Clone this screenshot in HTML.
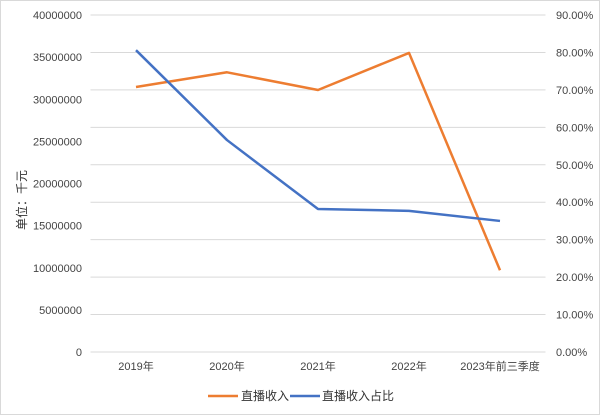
<!DOCTYPE html>
<html><head><meta charset="utf-8"><style>
body{margin:0;background:#fff}
svg{display:block;font-family:"Liberation Sans","Noto Sans CJK SC",sans-serif}
</style></head><body>
<svg id="chart" width="600" height="415" viewBox="0 0 600 415">
<rect x="0.5" y="0.5" width="599" height="414" fill="#fff" stroke="#d9d9d9"/>
<g id="grid"></g><g id="lines"></g><g id="labels"></g>
<text transform="translate(26,200) rotate(-90)" text-anchor="middle" font-size="12" fill="#333">单位：千元</text>
<g>
<line x1="208" y1="396" x2="238" y2="396" stroke="#ED7D31" stroke-width="2.5"/>
<text x="241" y="400" font-size="12" fill="#333">直播收入</text>
<line x1="290" y1="396" x2="320" y2="396" stroke="#4472C4" stroke-width="2.5"/>
<text x="322" y="400" font-size="12" fill="#333">直播收入占比</text>
</g>
</svg>
<script>
const categories=["2019年","2020年","2021年","2022年","2023年前三季度"];
const revenue=[31450000,33200000,31100000,35500000,9700000];
const share=[80.6,56.6,38.2,37.7,35.0];
const leftTicks=[0,5000000,10000000,15000000,20000000,25000000,30000000,35000000,40000000];
const rightTicks=["0.00%","10.00%","20.00%","30.00%","40.00%","50.00%","60.00%","70.00%","80.00%","90.00%"];
const NS="http://www.w3.org/2000/svg";
const X0=90.5,X1=545.5,Y0=352,Y1=15;
const xs=i=>X0+(X1-X0)/categories.length*(i+0.5);
const yL=v=>Y0-(v/40000000)*(Y0-Y1);
const yR=v=>Y0-(v/90)*(Y0-Y1);
function mk(tag,attrs,parent){const e=document.createElementNS(NS,tag);for(const k in attrs)e.setAttribute(k,attrs[k]);parent.appendChild(e);return e;}
const grid=document.getElementById('grid'),lines=document.getElementById('lines'),labels=document.getElementById('labels');
for(let i=0;i<rightTicks.length;i++){
  const y=yR(i*10);
  const g=mk('line',{x1:X0,x2:X1,y1:y,y2:y,stroke:'#d9d9d9','stroke-width':1},grid);
  
  
  const t=mk('text',{x:556,y:y+4,'font-size':11,fill:'#444'},labels);
  t.textContent=rightTicks[i];
  
  
}
leftTicks.forEach(v=>{
  const t=mk('text',{x:82,y:yL(v)+4,'font-size':11,fill:'#444','text-anchor':'end'},labels);
  t.textContent=String(v);
  
  
});
categories.forEach((c,i)=>{
  const t=mk('text',{x:xs(i),y:370,'font-size':11,fill:'#444','text-anchor':'middle'},labels);
  t.textContent=c;
  
  
});
const p1=mk('polyline',{points:revenue.map((v,i)=>xs(i)+','+yL(v)).join(' '),fill:'none',stroke:'#ED7D31','stroke-width':2.5,'stroke-linejoin':'round'},lines);


const p2=mk('polyline',{points:share.map((v,i)=>xs(i)+','+yR(v)).join(' '),fill:'none',stroke:'#4472C4','stroke-width':2.5,'stroke-linejoin':'round'},lines);


</script>
</body></html>
